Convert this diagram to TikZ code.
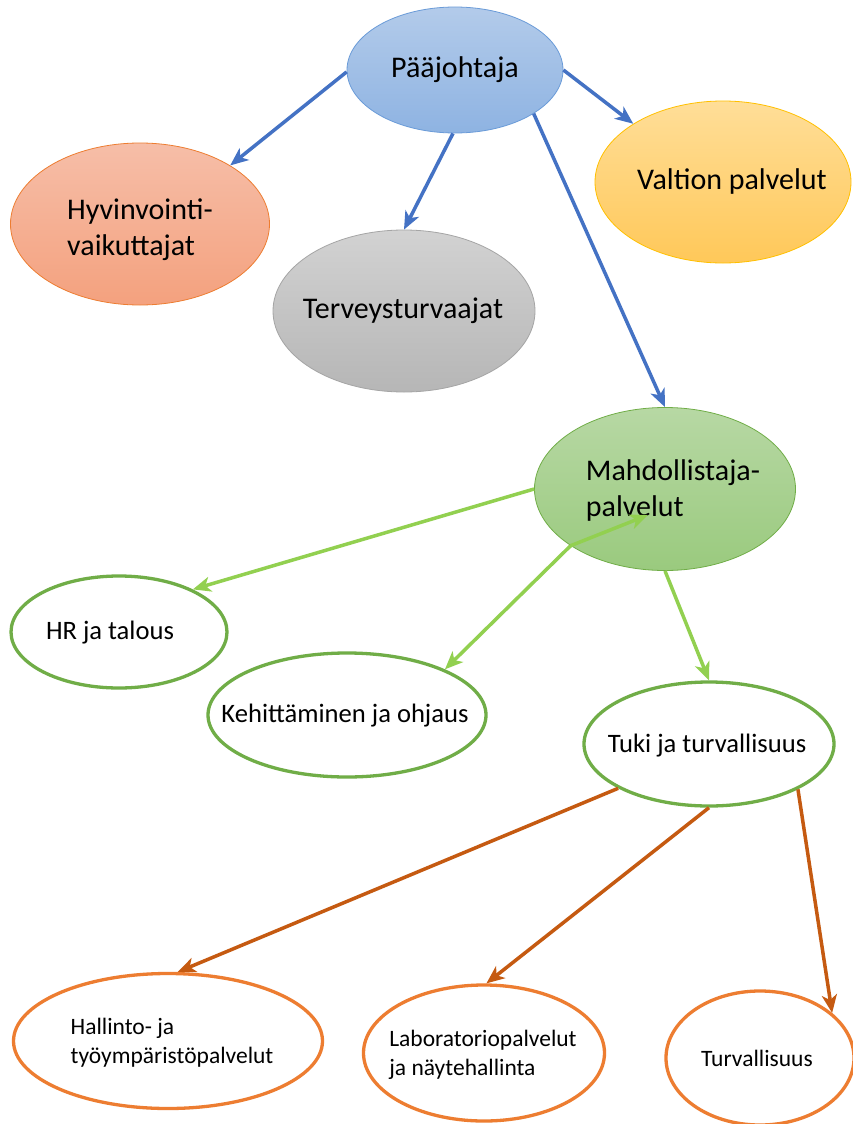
\documentclass[tikz,border=0pt]{standalone}
\usepackage{fontspec}
\setmainfont{Carlito}
\usetikzlibrary{shapes.geometric,arrows.meta}

\definecolor{blueTop}{HTML}{B3CBEA}
\definecolor{blueBot}{HTML}{8EB3E2}
\definecolor{blueEdge}{HTML}{6A9BD8}
\definecolor{salTop}{HTML}{F6BEA8}
\definecolor{salBot}{HTML}{F4A17E}
\definecolor{salEdge}{HTML}{ED7D31}
\definecolor{grayTop}{HTML}{D2D2D2}
\definecolor{grayBot}{HTML}{B6B6B6}
\definecolor{grayEdge}{HTML}{A5A5A5}
\definecolor{yelTop}{HTML}{FFDE98}
\definecolor{yelBot}{HTML}{FFC859}
\definecolor{yelEdge}{HTML}{FFC000}
\definecolor{grnTop}{HTML}{B7D8A4}
\definecolor{grnBot}{HTML}{9ACA7E}
\definecolor{grnEdge}{HTML}{70AD47}
\definecolor{ringG}{HTML}{70AD47}
\definecolor{ringO}{HTML}{ED7D31}
\definecolor{lineBlue}{HTML}{4472C4}
\definecolor{lineGreen}{HTML}{92D050}
\definecolor{lineBrown}{HTML}{C55A11}

\begin{document}
\begin{tikzpicture}[x=1pt,y=-1pt,
  bubble/.style={ellipse, inner sep=0pt},
  shaded/.style={bubble, draw, line width=0.8pt},
  ring/.style={bubble, fill=white, line width=3.3pt},
  caption/.style={inner sep=0pt, text=black, align=left},
  bigtext/.style={caption, font=\fontsize{30}{36}\selectfont},
  midtext/.style={caption, font=\fontsize{26.6}{32}\selectfont},
  smalltext/.style={caption, font=\fontsize{23.5}{29}\selectfont},
  link/.style={line width=3.5pt,
    -{Stealth[length=18pt,width=15pt,inset=5pt]}}]

\clip (0,0) rectangle (853,1124);
\fill[white] (0,0) rectangle (853,1124);

% top level bubbles
\node[shaded, draw=blueEdge, top color=blueTop, bottom color=blueBot,
  minimum width=216pt, minimum height=126pt] (pj) at (455,70) {};
\node[shaded, draw=salEdge, top color=salTop, bottom color=salBot,
  minimum width=259pt, minimum height=162pt] (hv) at (140,224) {};
\node[shaded, draw=grayEdge, top color=grayTop, bottom color=grayBot,
  minimum width=262pt, minimum height=162pt] (tt) at (404,311) {};
\node[shaded, draw=yelEdge, top color=yelTop, bottom color=yelBot,
  minimum width=256pt, minimum height=162pt] (vp) at (723,182) {};
\node[shaded, draw=grnEdge, top color=grnTop, bottom color=grnBot,
  minimum width=261pt, minimum height=163pt] (mp) at (665,489) {};

% enabling services
\node[ring, draw=ringG, minimum width=216pt, minimum height=112pt] (hr) at (119,632) {};
\node[ring, draw=ringG, minimum width=278pt, minimum height=124pt] (ko) at (347,715) {};
\node[ring, draw=ringG, minimum width=250pt, minimum height=124pt] (tu) at (709,744) {};

% support and safety units
\node[ring, draw=ringO, minimum width=309pt, minimum height=135pt] (ha) at (168,1041) {};
\node[ring, draw=ringO, minimum width=241pt, minimum height=136pt] (la) at (484,1053) {};
\node[ring, draw=ringO, minimum width=188pt, minimum height=134pt] (tv) at (760,1058) {};

% captions
\node[bigtext] (pjT) at (455,70) {Pääjohtaja};
\node[bigtext] (hvT) at (140,230) {Hyvinvointi-\\vaikuttajat};
\node[bigtext] (ttT) at (403,311) {Terveysturvaajat};
\node[bigtext] (vpT) at (732,182) {Valtion palvelut};
\node[bigtext] (mpT) at (673,490) {Mahdollistaja-\\palvelut};
\node[midtext] (hrT) at (110,633) {HR ja talous};
\node[midtext] (koT) at (345,716) {Kehittäminen ja ohjaus};
\node[midtext] (tuT) at (707,746) {Tuki ja turvallisuus};
\node[smalltext] (haT) at (172,1043) {Hallinto- ja\\työympäristöpalvelut};
\node[smalltext] (laT) at (483,1055) {Laboratoriopalvelut\\ja näytehallinta};
\node[smalltext] (tvT) at (757,1058) {Turvallisuus};

\coordinate (mpin) at (648,515);

% connectors
\draw[link, lineBlue] (pj.181) -- (hv.33);
\draw[link, lineBlue] (pj.-90) ++(-2,0) -- (tt.90);
\draw[link, lineBlue] (pj.-29) -- (mp.90);
\draw[link, lineBlue] (pj.0) -- (vp.147);

\draw[link, lineGreen] (mp.180) -- (hr.30);
\draw[link, lineGreen] (mp.211) -- (ko.25);
\draw[link, lineGreen] (mp.211) -- (mpin);
\draw[link, lineGreen] (mp.270) -- (tu.90);

\draw[link, lineBrown] (tu.206) -- (ha.82);
\draw[link, lineBrown] (tu.-90) -- (la.88);
\draw[link, lineBrown] (tu.-27) -- (tv.32);
\end{tikzpicture}
\end{document}
